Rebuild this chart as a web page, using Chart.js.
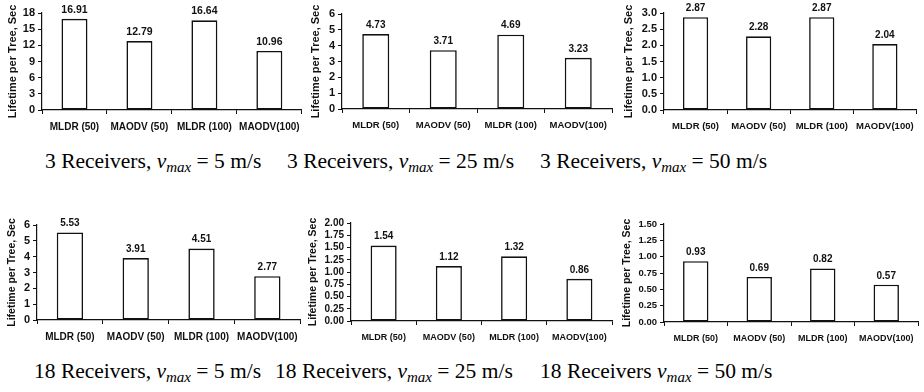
<!DOCTYPE html>
<html>
<head>
<meta charset="utf-8">
<script src="https://cdn.jsdelivr.net/npm/chart.js@4/dist/chart.umd.min.js"></script>
<style>
  html, body { margin:0; padding:0; background:#fff; }
  body { width:924px; height:392px; position:relative; overflow:hidden; }
  .box { position:absolute; }
  .cap { position:absolute; font-family:"Liberation Serif","Times New Roman",serif; font-size:21.5px; line-height:24px; color:#000; white-space:nowrap; }
  .cap sub { font-size:15px; vertical-align:-4px; line-height:0; }
</style>
</head>
<body>
<div class="box" id="b0"><canvas id="c0"></canvas></div>
<div class="box" id="b1"><canvas id="c1"></canvas></div>
<div class="box" id="b2"><canvas id="c2"></canvas></div>
<div class="box" id="b3"><canvas id="c3"></canvas></div>
<div class="box" id="b4"><canvas id="c4"></canvas></div>
<div class="box" id="b5"><canvas id="c5"></canvas></div>

<div class="cap" style="left:45px; top:149px;">3 Receivers, <i>v</i><sub><i>max</i></sub> = 5 m/s</div>
<div class="cap" style="left:287px; top:149px;">3 Receivers, <i>v</i><sub><i>max</i></sub> = 25 m/s</div>
<div class="cap" style="left:540px; top:149px;">3 Receivers, <i>v</i><sub><i>max</i></sub> = 50 m/s</div>
<div class="cap" style="left:34px; top:359px;">18 Receivers, <i>v</i><sub><i>max</i></sub> = 5 m/s</div>
<div class="cap" style="left:275px; top:359px;">18 Receivers, <i>v</i><sub><i>max</i></sub> = 25 m/s</div>
<div class="cap" style="left:540px; top:359px;">18 Receivers <i>v</i><sub><i>max</i></sub> = 50 m/s</div>

<script>
// ── Data ──────────────────────────────────────────────────────────────────────
const CATEGORIES = ["MLDR (50)", "MAODV (50)", "MLDR (100)", "MAODV(100)"];

const R3_V5   = [16.91, 12.79, 16.64, 10.96];
const R3_V25  = [4.73, 3.71, 4.69, 3.23];
const R3_V50  = [2.87, 2.28, 2.87, 2.04];
const R18_V5  = [5.53, 3.91, 4.51, 2.77];
const R18_V25 = [1.54, 1.12, 1.32, 0.86];
const R18_V50 = [0.93, 0.69, 0.82, 0.57];

const Y_MAX      = [18, 6, 3, 6, 2, 1.5];
const Y_STEP     = [3, 1, 0.5, 1, 0.25, 0.25];
const Y_DECIMALS = [0, 0, 1, 0, 2, 2];
const Y_TITLE    = "Lifetime per Tree, Sec";

const SERIES = [R3_V5, R3_V25, R3_V50, R18_V5, R18_V25, R18_V50];

// ── Layout (absolute px in the page) ─────────────────────────────────────────
// titleX: centre of the rotated y title, axisX: y axis line, plot top/bottom/right
const LAYOUT = [
  { titleX:13,  axisX:42,  right:304, top:13,  bottom:110, canvasTop:0,   tick:11, x:10,  val:10.5, title:11 },
  { titleX:316, axisX:342, right:612, top:14,  bottom:109, canvasTop:0,   tick:11, x:9.5, val:10,   title:11 },
  { titleX:629, axisX:664, right:918, top:13,  bottom:110, canvasTop:0,   tick:11, x:9.5, val:10,   title:11 },
  { titleX:12,  axisX:37,  right:302, top:225, bottom:320, canvasTop:200, tick:11, x:10,  val:10,   title:10.5 },
  { titleX:313, axisX:351, right:612, top:223, bottom:321, canvasTop:200, tick:10, x:9,   val:10,   title:10.5 },
  { titleX:627, axisX:664, right:918, top:224, bottom:322, canvasTop:200, tick:9.5, x:9,  val:10,   title:10.5 }
];

const FONT = "'Liberation Sans', Arial, sans-serif";
const X_AXIS_H = 24;

function el(id) { return document.getElementById(id); }

// value labels above the bars
const valueLabels = {
  id: "valueLabels",
  afterDatasetsDraw(chart, args, opts) {
    const ctx = chart.ctx;
    ctx.save();
    ctx.font = `bold ${opts.size}px ${FONT}`;
    ctx.fillStyle = "#111";
    ctx.textAlign = "center";
    ctx.textBaseline = "bottom";
    const ds = chart.data.datasets[0];
    chart.getDatasetMeta(0).data.forEach((bar, i) => {
      ctx.fillText(ds.data[i].toFixed(2), bar.x, bar.y - 4);
    });
    ctx.restore();
  }
};

function makeChart(i) {
  const L = LAYOUT[i];
  const titleLine = L.title * 1.2;
  const canvasLeft = Math.round(L.titleX - 4 - titleLine / 2);
  const w = L.right - canvasLeft + 3;
  const h = L.bottom - L.canvasTop + X_AXIS_H;
  const box = el("b" + i);
  box.style.left = canvasLeft + "px";
  box.style.top = L.canvasTop + "px";
  box.style.width = w + "px";
  box.style.height = h + "px";

  new Chart(el("c" + i).getContext("2d"), {
    type: "bar",
    data: {
      labels: CATEGORIES,
      datasets: [{
        data: SERIES[i],
        backgroundColor: "#fff",
        borderColor: "#111",
        borderWidth: 1.6,
        borderSkipped: false,
        barPercentage: 0.4,
        categoryPercentage: 1
      }]
    },
    options: {
      responsive: true, maintainAspectRatio: false, animation: false,
      layout: { padding: { top: L.top - L.canvasTop, right: 3, left: 0, bottom: 0 } },
      plugins: { legend: { display: false }, tooltip: { enabled: false }, valueLabels: { size: L.val } },
      scales: {
        x: {
          grid: { display: true, drawOnChartArea: false, color: "#111", tickLength: 4, offset: true },
          border: { color: "#111", width: 1.2 },
          ticks: { color: "#111", padding: 7, maxRotation: 0, autoSkip: false, font: { family: FONT, size: L.x, weight: "bold" } },
          afterFit: s => { s.height = X_AXIS_H; }
        },
        y: {
          min: 0, max: Y_MAX[i],
          grid: { drawOnChartArea: false, color: "#111", tickLength: 4 },
          border: { color: "#111", width: 1.2 },
          ticks: { stepSize: Y_STEP[i], autoSkip: false, color: "#111", padding: 3,
                   font: { family: FONT, size: L.tick, weight: "bold" },
                   callback: v => Number(v).toFixed(Y_DECIMALS[i]) },
          title: { display: true, text: Y_TITLE, color: "#111", font: { family: FONT, size: L.title, weight: "bold" } },
          afterFit: s => { s.width = L.axisX - canvasLeft; }
        }
      }
    },
    plugins: [valueLabels]
  });
}

for (let i = 0; i < SERIES.length; i++) makeChart(i);
</script>
</body>
</html>
